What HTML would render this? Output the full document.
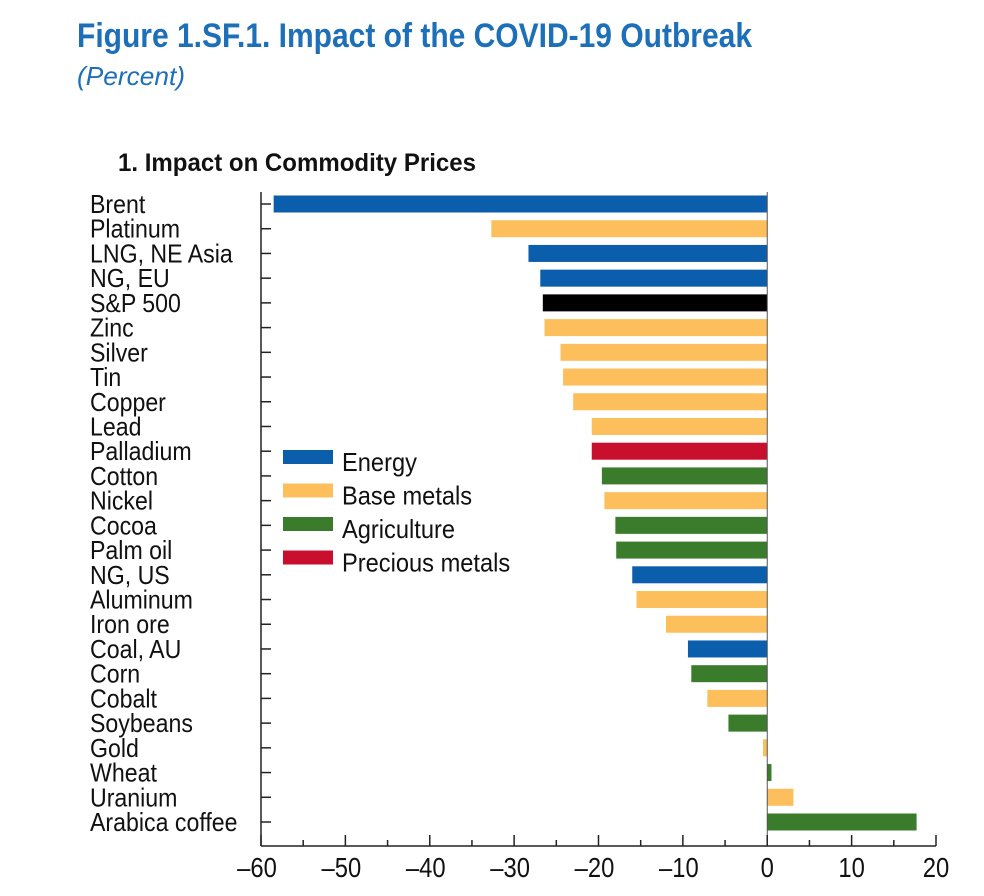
<!DOCTYPE html>
<html><head><meta charset="utf-8">
<style>
body{margin:0;background:#fff;width:984px;height:896px;overflow:hidden;font-family:"Liberation Sans",sans-serif;}
svg{position:absolute;left:0;top:0}
</style></head>
<body>
<svg width="984" height="896">
<text x="77" y="47" fill="#1d6fb8" font-size="34" font-weight="bold" textLength="675" lengthAdjust="spacingAndGlyphs">Figure 1.SF.1. Impact of the COVID-19 Outbreak</text>
<text x="77" y="85" fill="#1d6fb8" font-size="26" font-style="italic" textLength="108" lengthAdjust="spacingAndGlyphs">(Percent)</text>
<text x="118" y="171" fill="#111" font-size="25" font-weight="bold" textLength="358" lengthAdjust="spacingAndGlyphs">1. Impact on Commodity Prices</text>
<g id="plot"></g>
</svg>
<script>
const categories=["Brent","Platinum","LNG, NE Asia","NG, EU","S&P 500","Zinc","Silver","Tin","Copper","Lead","Palladium","Cotton","Nickel","Cocoa","Palm oil","NG, US","Aluminum","Iron ore","Coal, AU","Corn","Cobalt","Soybeans","Gold","Wheat","Uranium","Arabica coffee"];
const values=[-58.5,-32.7,-28.3,-26.9,-26.6,-26.4,-24.5,-24.2,-23.0,-20.8,-20.8,-19.6,-19.3,-18.0,-17.9,-16.0,-15.5,-12.0,-9.4,-9.0,-7.1,-4.6,-0.5,0.5,3.1,17.7];
const groups=["energy","base","energy","energy","equity","base","base","base","base","base","precious","agri","base","agri","agri","energy","base","base","energy","agri","base","agri","base","agri","base","agri"];
const xTicks=[-60,-50,-40,-30,-20,-10,0,10,20];
const legendKeys=["energy","base","agri","precious"];
const legendLabels=["Energy","Base metals","Agriculture","Precious metals"];
const colors={energy:"#0a5eab",base:"#fdbf5c",agri:"#3a7c2c",precious:"#c8102e",equity:"#000"};
const NS="http://www.w3.org/2000/svg";
const g=document.getElementById('plot');
const x0=261,x1=936,yTop=192,yBot=846,rowTop=204,rowStep=24.72;
const xs=v=>x0+(v-(-60))/80*(x1-x0);
const ys=i=>rowTop+i*rowStep;
function mk(t,a){const e=document.createElementNS(NS,t);for(const k in a)e.setAttribute(k,a[k]);g.appendChild(e);return e;}
categories.forEach((c,i)=>{
  const y=ys(i),v=values[i];
  const r=mk('rect',{x:Math.min(xs(0),xs(v)),y:y-8.5,width:Math.abs(xs(v)-xs(0)),height:17,fill:colors[groups[i]]});
  
  
  const t=mk('text',{transform:'translate(90,'+(y+9)+') scale(0.89,1)','font-size':26,fill:'#111'});t.textContent=c;
  
  
  const tk=mk('line',{x1:x0,x2:x0+10,y1:y,y2:y,stroke:'#222','stroke-width':1.5});
  
  
});
const zl=mk('line',{x1:xs(0),x2:xs(0),y1:yTop,y2:yBot,stroke:'#555','stroke-width':1});


const ya=mk('line',{x1:x0,x2:x0,y1:yTop,y2:yBot,stroke:'#222','stroke-width':1.5});


const xa=mk('line',{x1:x0,x2:x1,y1:yBot,y2:yBot,stroke:'#222','stroke-width':1.5});


for(let v=-60;v<=20;v+=5){
  const major=v%10===0;
  const l=mk('line',{x1:xs(v),x2:xs(v),y1:yBot,y2:yBot-(major?11:6),stroke:'#222','stroke-width':1.5});
  
  
}
xTicks.forEach(v=>{
  const t=mk('text',{transform:'translate('+(xs(v)-(v<0?4:0))+',877) scale(0.85,1)','font-size':28,'text-anchor':'middle',fill:'#111'});
  t.textContent=v<0?'\u2013'+Math.abs(v):String(v);
  
  
});
legendKeys.forEach((k,i)=>{
  const y=457+i*33.5;
  const r=mk('rect',{x:283,y:y-7,width:50,height:14,fill:colors[k]});
  
  
  const t=mk('text',{transform:'translate(342,'+(y+14)+') scale(0.91,1)','font-size':26,fill:'#111'});t.textContent=legendLabels[i];
  
  
});
</script>
</body></html>
